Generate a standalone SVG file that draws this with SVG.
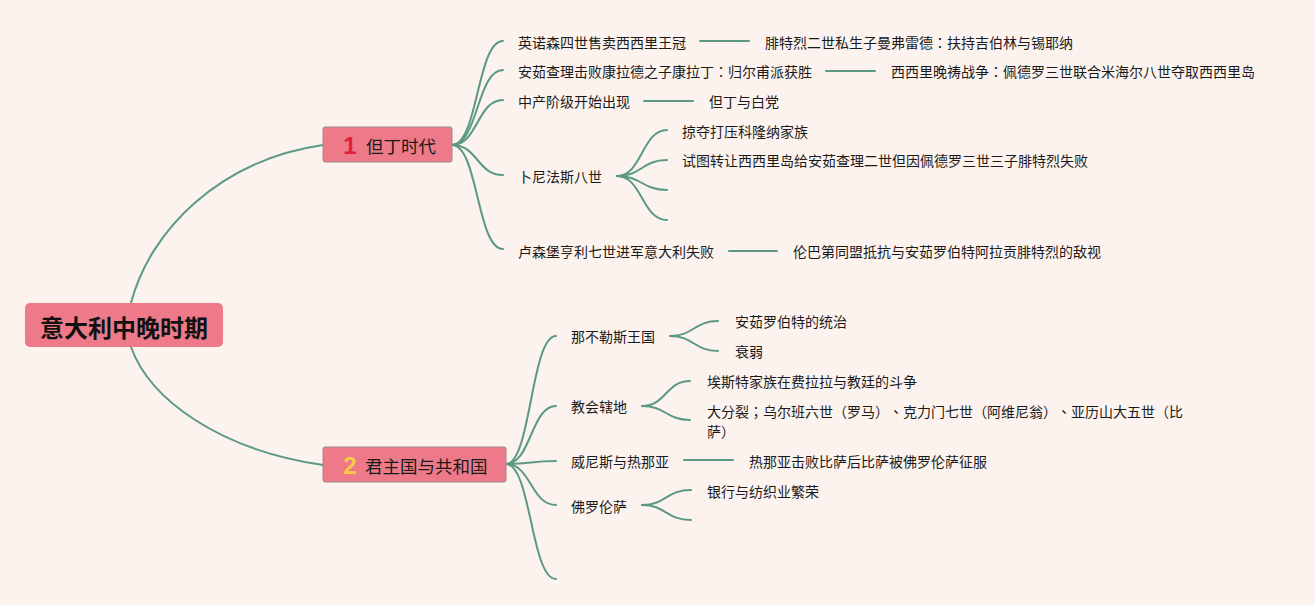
<svg xmlns="http://www.w3.org/2000/svg" width="1315" height="605" viewBox="0 0 1315 605">
<style>
.bg{fill:#fdf3ee}
.c{fill:none;stroke:#5b9985;stroke-width:2;stroke-linecap:round}
text{text-spacing-trim:space-all}
.t{font-family:"Noto Sans CJK SC","Noto Sans",sans-serif;font-size:14px;fill:#1a1a1a;dominant-baseline:central}
.p{font-family:"Noto Sans CJK TC","Noto Sans CJK SC",sans-serif}
.rootbox{fill:#ee7a89}
.box{fill:#ee7a89;stroke:#9c8c88;stroke-width:1}
.rt{font-family:"Noto Sans CJK SC","Noto Sans",sans-serif;font-size:24px;font-weight:bold;fill:#111;dominant-baseline:central}
.mt{font-family:"Noto Sans CJK SC","Noto Sans",sans-serif;font-size:17.5px;fill:#1a1a1a;dominant-baseline:central}
.num{font-family:"Liberation Sans","Noto Sans",sans-serif;font-size:24px;font-weight:bold;dominant-baseline:central}
</style>
<rect class="bg" x="0" y="0" width="1315" height="605"/>
<g id="connectors">
<path class="c" d="M131,303 C150,230 220,160 323,145"/>
<path class="c" d="M131,347 C150,400 220,450 323,465"/>
<path class="c" d="M452,145 C478,145 477,41 503,41"/>
<path class="c" d="M452,145 C478,145 477,70 503,70"/>
<path class="c" d="M452,145 C478,145 477,100 503,100"/>
<path class="c" d="M452,145 C478,145 477,175 503,175"/>
<path class="c" d="M452,145 C478,145 477,249 503,249"/>
<path class="c" d="M700,41 H749"/>
<path class="c" d="M826,71 H875"/>
<path class="c" d="M644,101 H693"/>
<path class="c" d="M729,251 H777"/>
<path class="c" d="M617,176 C642,176 642,130 667,130"/>
<path class="c" d="M617,176 C642,176 642,160 667,160"/>
<path class="c" d="M617,176 C642,176 642,190 667,190"/>
<path class="c" d="M617,176 C642,176 642,220 667,220"/>
<path class="c" d="M506,464 C531,464 531,336 556,336"/>
<path class="c" d="M506,464 C531,464 531,406 556,406"/>
<path class="c" d="M506,464 C531,464 531,461 556,461"/>
<path class="c" d="M506,464 C531,464 531,505 556,505"/>
<path class="c" d="M506,464 C531,464 531,579 556,579"/>
<path class="c" d="M670,336 C694,336 694,321 718,321"/>
<path class="c" d="M670,336 C694,336 694,351 718,351"/>
<path class="c" d="M642,406 C666,406 666,381 690,381"/>
<path class="c" d="M642,406 C666,406 666,420 690,420"/>
<path class="c" d="M684,460 H733"/>
<path class="c" d="M642,505 C666,505 666,490 691,490"/>
<path class="c" d="M642,505 C666,505 666,520 691,520"/>
</g>
<g id="root">
<rect class="rootbox" x="25" y="303" width="198" height="44" rx="5"/>
<text class="rt" x="124" y="326" text-anchor="middle">意大利中晚时期</text>
</g>
<g id="n1">
<rect class="box" x="323" y="127" width="129" height="35" rx="2"/>
<text class="num" x="350" y="145" text-anchor="middle" fill="#e3203a">1</text>
<text class="mt" x="366" y="145">但丁时代</text>
</g>
<g id="n2">
<rect class="box" x="323" y="447" width="183" height="35" rx="2"/>
<text class="num" x="350" y="465" text-anchor="middle" fill="#f7cb45">2</text>
<text class="mt" x="365" y="465">君主国与共和国</text>
</g>
<g id="n1a"><text class="t" x="518" y="42">英诺森四世售卖西西里王冠</text></g>
<g id="n1a1"><text class="t" x="765" y="42">腓特烈二世私生子曼弗雷德<tspan class="p">：</tspan>扶持吉伯林与锡耶纳</text></g>
<g id="n1b"><text class="t" x="518" y="71">安茹查理击败康拉德之子康拉丁<tspan class="p">：</tspan>归尔甫派获胜</text></g>
<g id="n1b1"><text class="t" x="891" y="71">西西里晚祷战争<tspan class="p">：</tspan>佩德罗三世联合米海尔八世夺取西西里岛</text></g>
<g id="n1c"><text class="t" x="518" y="101">中产阶级开始出现</text></g>
<g id="n1c1"><text class="t" x="709" y="101">但丁与白党</text></g>
<g id="n1d"><text class="t" x="518" y="176">卜尼法斯八世</text></g>
<g id="n1d1"><text class="t" x="682" y="131">掠夺打压科隆纳家族</text></g>
<g id="n1d2"><text class="t" x="682" y="160">试图转让西西里岛给安茹查理二世但因佩德罗三世三子腓特烈失败</text></g>
<g id="n1e"><text class="t" x="518" y="251">卢森堡亨利七世进军意大利失败</text></g>
<g id="n1e1"><text class="t" x="793" y="251">伦巴第同盟抵抗与安茹罗伯特阿拉贡腓特烈的敌视</text></g>
<g id="n2a"><text class="t" x="571" y="336">那不勒斯王国</text></g>
<g id="n2a1"><text class="t" x="735" y="321">安茹罗伯特的统治</text></g>
<g id="n2a2"><text class="t" x="735" y="351">衰弱</text></g>
<g id="n2b"><text class="t" x="571" y="406">教会辖地</text></g>
<g id="n2b1"><text class="t" x="707" y="381">埃斯特家族在费拉拉与教廷的斗争</text></g>
<g id="n2b2"><text class="t" x="707" y="411">大分裂<tspan class="p">；</tspan>乌尔班六世（罗马）<tspan class="p">、</tspan>克力门七世（阿维尼翁）<tspan class="p">、</tspan>亚历山大五世（比</text><text class="t" x="707" y="431">萨）</text></g>
<g id="n2c"><text class="t" x="571" y="461">威尼斯与热那亚</text></g>
<g id="n2c1"><text class="t" x="749" y="461">热那亚击败比萨后比萨被佛罗伦萨征服</text></g>
<g id="n2d"><text class="t" x="571" y="506">佛罗伦萨</text></g>
<g id="n2d1"><text class="t" x="707" y="491">银行与纺织业繁荣</text></g>
</svg>
